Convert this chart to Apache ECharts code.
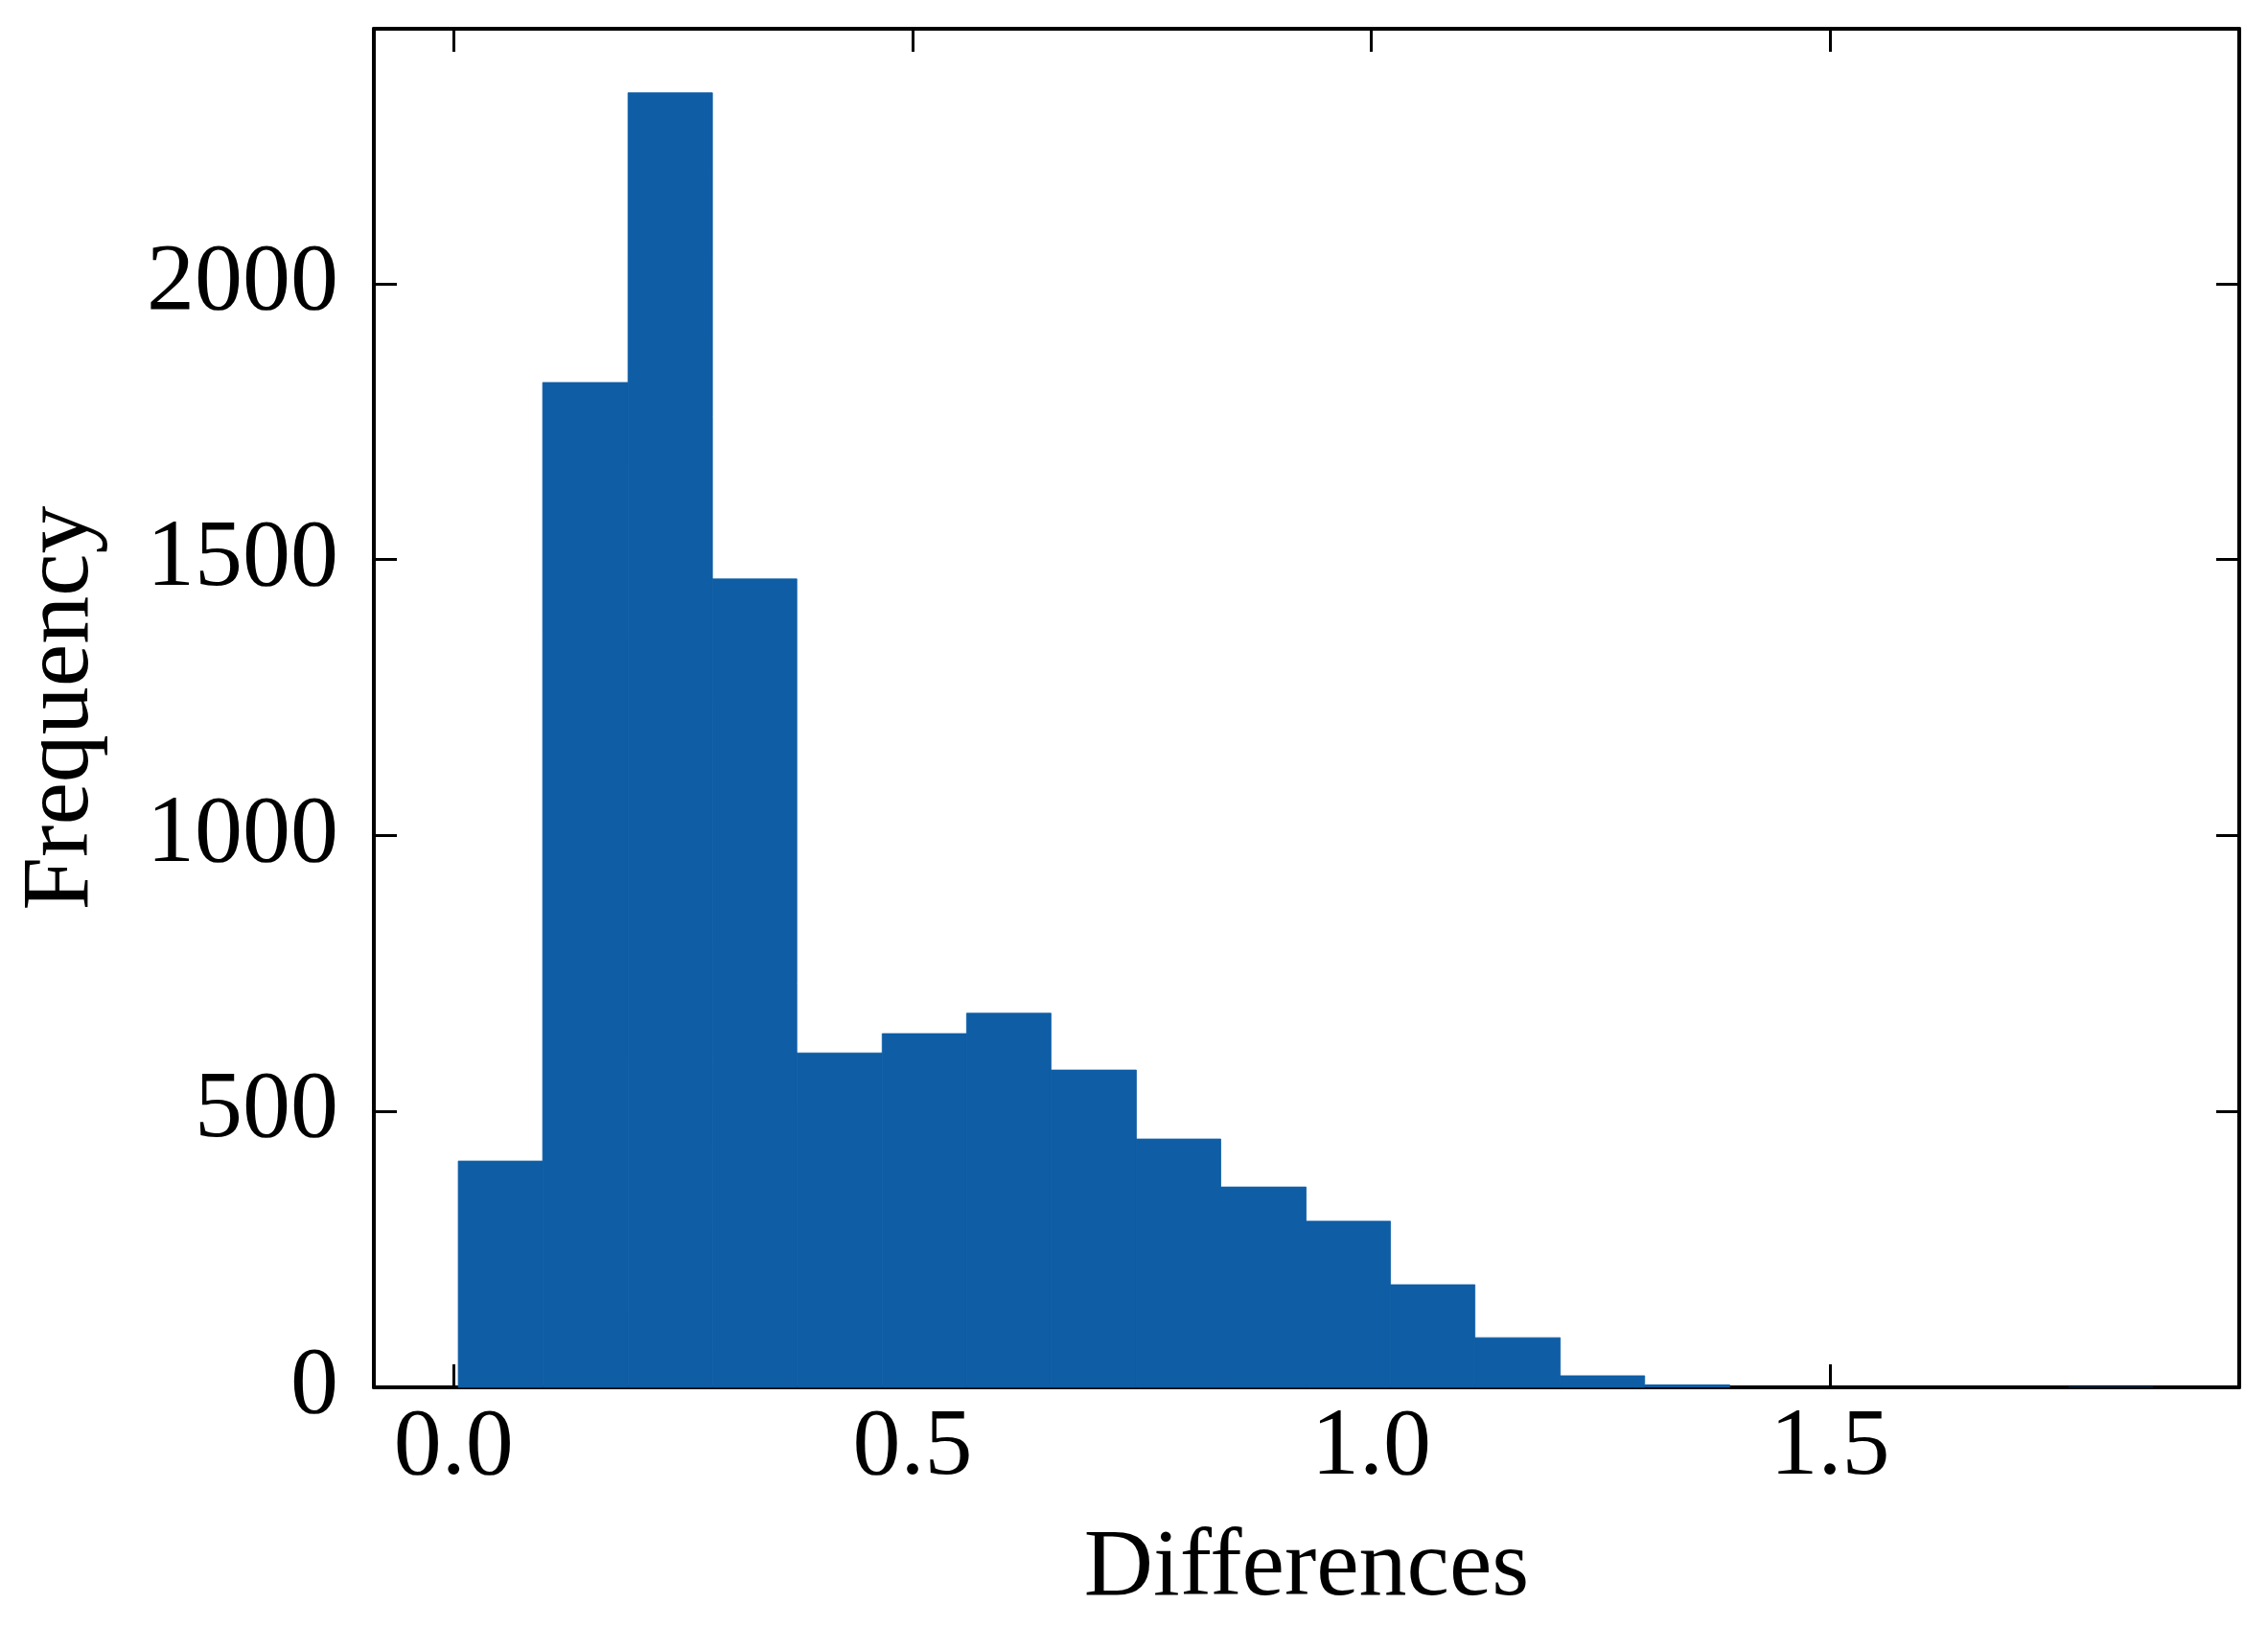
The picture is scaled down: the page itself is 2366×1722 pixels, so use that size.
<!DOCTYPE html>
<html>
<head>
<meta charset="utf-8">
<script src="https://cdn.jsdelivr.net/npm/echarts@6/dist/echarts.min.js"></script>
<style>
  html, body { margin: 0; padding: 0; background: #fff; }
  #main { width: 2366px; height: 1722px; }
</style>
</head>
<body>
<div id="main"></div>
<script>
// histogram bins (edges) and counts
var binEdges = [0.005, 0.097, 0.190, 0.282, 0.374, 0.467, 0.559, 0.651, 0.744, 0.836, 0.929,
                1.021, 1.113, 1.206, 1.298, 1.391, 1.483, 1.575, 1.668, 1.760, 1.852];
var counts = [410, 1821, 2346, 1465, 606, 641, 678, 575, 450, 363, 301, 186, 90, 21, 5, 0, 0, 0, 0, 1];

var xTicks = [0, 0.5, 1.0, 1.5];
var yTicks = [0, 500, 1000, 1500, 2000];

var barColor = '#0E5DA5';
var font = 'Liberation Serif';

var myChart = echarts.init(document.getElementById('main'));

var histData = [];
for (var i = 0; i < counts.length; i++) {
    histData.push([binEdges[i], binEdges[i + 1], counts[i]]);
}

var lineStyle = { color: '#000', width: 4 };
var tickStyle = { color: '#000', width: 3 };

function xAxisOpt(pos, showLabel) {
    return {
        type: 'value',
        position: pos,
        min: -0.087,
        max: 1.946,
        axisLine: { show: true, onZero: false, lineStyle: lineStyle },
        axisTick: { show: true, inside: true, length: 24, lineStyle: tickStyle, customValues: xTicks },
        axisLabel: {
            show: showLabel,
            customValues: xTicks,
            formatter: function (v) { return v.toFixed(1); },
            fontFamily: font, fontSize: 100, color: '#000', margin: 14
        },
        splitLine: { show: false }
    };
}

function yAxisOpt(pos, showLabel) {
    return {
        type: 'value',
        position: pos,
        min: 0,
        max: 2462,
        axisLine: { show: true, onZero: false, lineStyle: lineStyle },
        axisTick: { show: true, inside: true, length: 24, lineStyle: tickStyle, customValues: yTicks },
        axisLabel: {
            show: showLabel,
            customValues: yTicks,
            formatter: function (v) { return String(v); },
            fontFamily: font, fontSize: 100, color: '#000', margin: 37
        },
        splitLine: { show: false }
    };
}

var xBottom = xAxisOpt('bottom', true);
xBottom.name = 'Differences';
xBottom.nameLocation = 'middle';
xBottom.nameGap = 140;
xBottom.nameTextStyle = { fontFamily: font, fontSize: 100, color: '#000' };

var yLeft = yAxisOpt('left', true);
yLeft.name = 'Frequency';
yLeft.nameLocation = 'middle';
yLeft.nameGap = 275;
yLeft.nameTextStyle = { fontFamily: font, fontSize: 100, color: '#000' };

myChart.setOption({
    animation: false,
    backgroundColor: '#fff',
    grid: { left: 390, right: 30, top: 30, bottom: 275 },
    xAxis: [xBottom, xAxisOpt('top', false)],
    yAxis: [yLeft, yAxisOpt('right', false)],
    series: [{
        type: 'custom',
        xAxisIndex: 0,
        yAxisIndex: 0,
        data: histData,
        renderItem: function (params, api) {
            var n = api.value(2);
            var p0 = api.coord([api.value(0), n]);
            var p1 = api.coord([api.value(1), 0]);
            // thin same-colour outline hides the seams between neighbouring bars
            var style = n >= 10
                ? { fill: barColor, stroke: barColor, lineWidth: 0.8 }
                : { fill: barColor };
            return {
                type: 'rect',
                shape: { x: p0[0], y: p0[1], width: p1[0] - p0[0], height: p1[1] - p0[1] },
                style: style
            };
        }
    }]
});
</script>
</body>
</html>
